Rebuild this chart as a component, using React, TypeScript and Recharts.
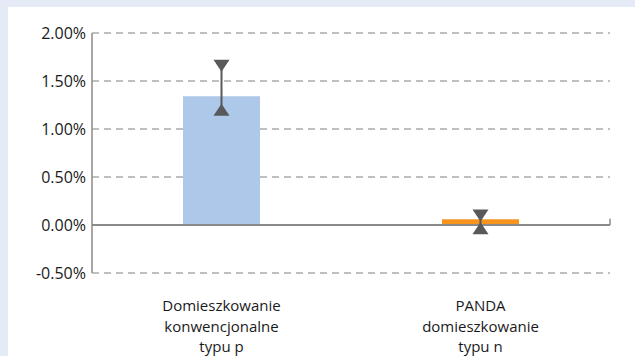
import React from 'react'
import {
  Bar,
  CartesianGrid,
  Cell,
  ComposedChart,
  ErrorBar,
  ReferenceLine,
  Scatter,
  XAxis,
  YAxis,
} from 'recharts'

// Values (percent).
const categories = ['Domieszkowanie konwencjonalne typu p', 'PANDA domieszkowanie typu n']
const categoryLines = [
  ['Domieszkowanie', 'konwencjonalne', 'typu p'],
  ['PANDA', 'domieszkowanie', 'typu n'],
]
const values = [1.34, 0.06]
const upperValues = [1.66, 0.1]
const lowerValues = [1.2, -0.035]
const barColors = ['#adc8e8', '#f7941d']
const yTicks = [-0.5, 0, 0.5, 1, 1.5, 2]
// category boundaries on the hidden positional axis, where the small ticks sit
const boundaryTicks = [1, 2]
const boundaryTickHeight = 0.065

const data = categories.map((name, i) => ({
  name,
  value: values[i],
  upper: upperValues[i],
  lower: lowerValues[i],
  err: [values[i] - lowerValues[i], upperValues[i] - values[i]],
}))

const FONT = '"Open Sans", sans-serif'
const MARKER = '#58595b'

function DownTriangle(props: any) {
  const { cx, cy } = props
  if (cx == null || cy == null) return null
  return <polygon points={`${cx - 8},${cy - 6} ${cx + 8},${cy - 6} ${cx},${cy + 6}`} fill={MARKER} />
}

function UpTriangle(props: any) {
  const { cx, cy } = props
  if (cx == null || cy == null) return null
  return <polygon points={`${cx - 8},${cy + 6} ${cx + 8},${cy + 6} ${cx},${cy - 6}`} fill={MARKER} />
}

function CategoryTick(props: any) {
  const { x, y, index } = props
  const lines = categoryLines[index] ?? []
  return (
    <text x={x} y={y} textAnchor="middle" fill="#1a1a1a" fontSize={15} fontFamily={FONT}>
      {lines.map((line, i) => (
        <tspan key={i} x={x} dy={i === 0 ? 30 : 20.5}>
          {line}
        </tspan>
      ))}
    </text>
  )
}

export default function App() {
  return (
    <div
      style={{
        position: 'fixed',
        left: 0,
        top: 0,
        width: 635,
        height: 356,
        background: '#e4eaf6',
      }}
    >
      <div style={{ position: 'absolute', left: 8, top: 7, width: 627, height: 349, background: '#fff' }}>
        <ComposedChart width={627} height={349} data={data} margin={{ top: 26, right: 25, bottom: 0, left: 0 }}>
          <CartesianGrid vertical={false} stroke="#aaaaaa" strokeDasharray="7 5" strokeWidth={1.5} />
          <XAxis
            dataKey="name"
            axisLine={false}
            tickLine={false}
            height={83}
            interval={0}
            tick={<CategoryTick />}
          />
          <XAxis xAxisId="pos" type="number" domain={[0, 2]} hide />
          <YAxis
            domain={[-0.5, 2]}
            ticks={yTicks}
            width={84}
            axisLine={{ stroke: '#8a8a8a', strokeWidth: 1.5 }}
            tickLine={false}
            tickMargin={0}
            tickFormatter={(v: number) => `${v.toFixed(2)}%`}
            tick={{ fill: '#1a1a1a', fontSize: 16, fontFamily: FONT }}
          />
          <ReferenceLine y={0} stroke="#8a8a8a" strokeWidth={2} />
          {boundaryTicks.map((b) => (
            <ReferenceLine
              key={b}
              xAxisId="pos"
              segment={[
                { x: b, y: 0 },
                { x: b, y: boundaryTickHeight },
              ]}
              stroke="#8a8a8a"
              strokeWidth={1.5}
            />
          ))}
          <Bar dataKey="value" barSize={77} isAnimationActive={false}>
            {data.map((d, i) => (
              <Cell key={d.name} fill={barColors[i]} />
            ))}
            <ErrorBar dataKey="err" width={0} stroke={MARKER} strokeWidth={2} direction="y" />
          </Bar>
          <Scatter dataKey="upper" shape={<DownTriangle />} isAnimationActive={false} />
          <Scatter dataKey="lower" shape={<UpTriangle />} isAnimationActive={false} />
        </ComposedChart>
      </div>
    </div>
  )
}
